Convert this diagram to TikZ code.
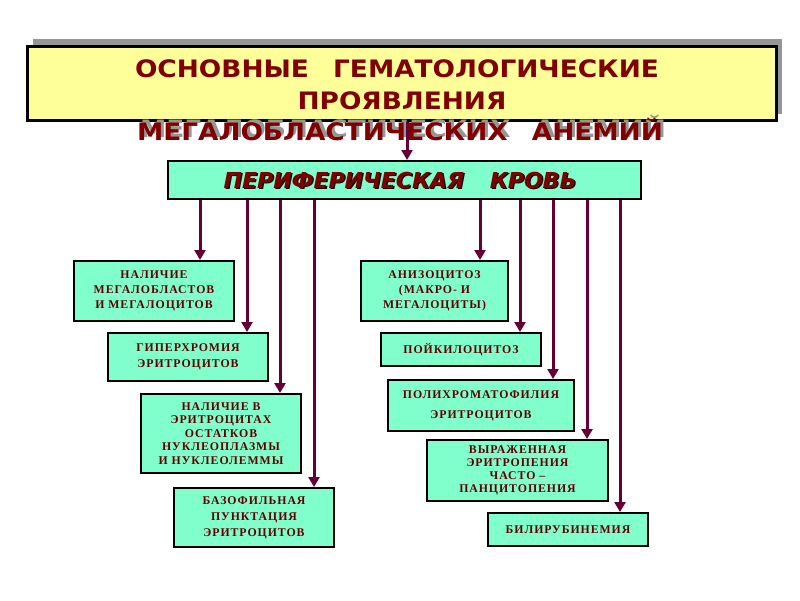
\documentclass[tikz,border=0pt]{standalone}
\usepackage{fontspec}
\usepackage{graphicx}
\setmainfont{Liberation Serif}
\newfontfamily\titlefont{DejaVu Sans}
\newfontfamily\boxfont{Liberation Serif}[LetterSpace=8]
\usetikzlibrary{arrows.meta}
\definecolor{aqua}{RGB}{128,255,204}
\definecolor{ylw}{RGB}{255,255,153}
\definecolor{dred}{RGB}{128,0,0}
\definecolor{txtred}{RGB}{96,0,0}
\definecolor{arrc}{RGB}{102,0,51}
\definecolor{shgray}{RGB}{150,150,150}
\begin{document}
\begin{tikzpicture}[x=1pt,y=-1pt,
  sbox/.style={draw=black, line width=2pt, fill=aqua, inner sep=0pt, align=center, text=txtred},
  bf/.style={font=\boxfont\bfseries\fontsize{11.8}{#1}\selectfont},
  arr/.style={draw=arrc, line width=3pt, -{Triangle[width=11pt,length=10pt]}},
  ttl/.style={font=\titlefont\bfseries\fontsize{24}{30}\selectfont, inner sep=0pt},
]
\useasboundingbox (0,0) rectangle (800,600);
% title
\fill[shgray] (33,39) rectangle (782,114);
\node[draw=black, line width=3pt, fill=ylw, minimum width=749pt, minimum height=74pt, inner sep=0pt] (title) at (401.5,83) {};
\node[ttl, text=dred] (t1) at (397,68.5) {\scalebox{1.1}[1]{ОСНОВНЫЕ\hspace{22pt}ГЕМАТОЛОГИЧЕСКИЕ}};
\node[ttl, text=dred] (t2) at (402,100.5) {\scalebox{1.1}[1]{ПРОЯВЛЕНИЯ}};
\node[ttl, text=shgray] (t3s) at (403,126.5) {\scalebox{1.1}[1]{МЕГАЛОБЛАСТИЧЕСКИХ\hspace{22pt}АНЕМИЙ}};
\node[ttl, text=dred] (t3) at (400,130) {\scalebox{1.1}[1]{МЕГАЛОБЛАСТИЧЕСКИХ\hspace{22pt}АНЕМИЙ}};
% peripheral blood
\node[sbox, minimum width=473pt, minimum height=38pt] (per) at (404.5,180) {};
\node[font=\titlefont\bfseries\itshape\fontsize{22}{24}\selectfont, text=black!80!dred, inner sep=0pt] (pers) at (401.5,181.5) {ПЕРИФЕРИЧЕСКАЯ\hspace{26pt}КРОВЬ};
\node[font=\titlefont\bfseries\itshape\fontsize{22}{24}\selectfont, text=dred, inner sep=0pt] (pert) at (400,180) {ПЕРИФЕРИЧЕСКАЯ\hspace{26pt}КРОВЬ};
\coordinate (tx) at (407,0);
\draw[arr] (title.south -| tx) -- (per.north -| tx);
% left boxes
\node[sbox, bf=15, minimum width=160pt, minimum height=60pt] (b1) at (154,291) {НАЛИЧИЕ\\МЕГАЛОБЛАСТОВ\\И МЕГАЛОЦИТОВ};
\node[sbox, bf=16, minimum width=160pt, minimum height=48pt] (b2) at (188,357) {ГИПЕРХРОМИЯ\\ЭРИТРОЦИТОВ};
\node[sbox, bf=13.5, minimum width=160pt, minimum height=79pt] (b3) at (221,433.5) {НАЛИЧИЕ В\\ЭРИТРОЦИТАХ\\ОСТАТКОВ\\НУКЛЕОПЛАЗМЫ\\И НУКЛЕОЛЕММЫ};
\node[sbox, bf=16, minimum width=160pt, minimum height=59pt] (b4) at (254,517.5) {БАЗОФИЛЬНАЯ\\ПУНКТАЦИЯ\\ЭРИТРОЦИТОВ};
% right boxes
\node[sbox, bf=15, minimum width=147pt, minimum height=60pt] (b5) at (434.5,291) {АНИЗОЦИТОЗ\\(МАКРО- И\\МЕГАЛОЦИТЫ)};
\node[sbox, bf=15, minimum width=160pt, minimum height=33pt] (b6) at (461,349.5) {ПОЙКИЛОЦИТОЗ};
\node[sbox, bf=20, minimum width=186pt, minimum height=51pt] (b7) at (481,405.5) {ПОЛИХРОМАТОФИЛИЯ\\ЭРИТРОЦИТОВ};
\node[sbox, bf=13, minimum width=181pt, minimum height=61pt] (b8) at (517.5,470.5) {ВЫРАЖЕННАЯ\\ЭРИТРОПЕНИЯ\\ЧАСТО –\\ПАНЦИТОПЕНИЯ};
\node[sbox, bf=15, minimum width=160pt, minimum height=33pt] (b9) at (568,529.5) {БИЛИРУБИНЕМИЯ};
% arrows
\coordinate (x1) at (200,0);
\coordinate (x2) at (247,0);
\coordinate (x3) at (280,0);
\coordinate (x4) at (314,0);
\coordinate (x5) at (480,0);
\coordinate (x6) at (520,0);
\coordinate (x7) at (553,0);
\coordinate (x8) at (587,0);
\coordinate (x9) at (620,0);
\draw[arr] (per.south -| x1) -- (b1.north -| x1);
\draw[arr] (per.south -| x2) -- (b2.north -| x2);
\draw[arr] (per.south -| x3) -- (b3.north -| x3);
\draw[arr] (per.south -| x4) -- (b4.north -| x4);
\draw[arr] (per.south -| x5) -- (b5.north -| x5);
\draw[arr] (per.south -| x6) -- (b6.north -| x6);
\draw[arr] (per.south -| x7) -- (b7.north -| x7);
\draw[arr] (per.south -| x8) -- (b8.north -| x8);
\draw[arr] (per.south -| x9) -- (b9.north -| x9);
\end{tikzpicture}
\end{document}
